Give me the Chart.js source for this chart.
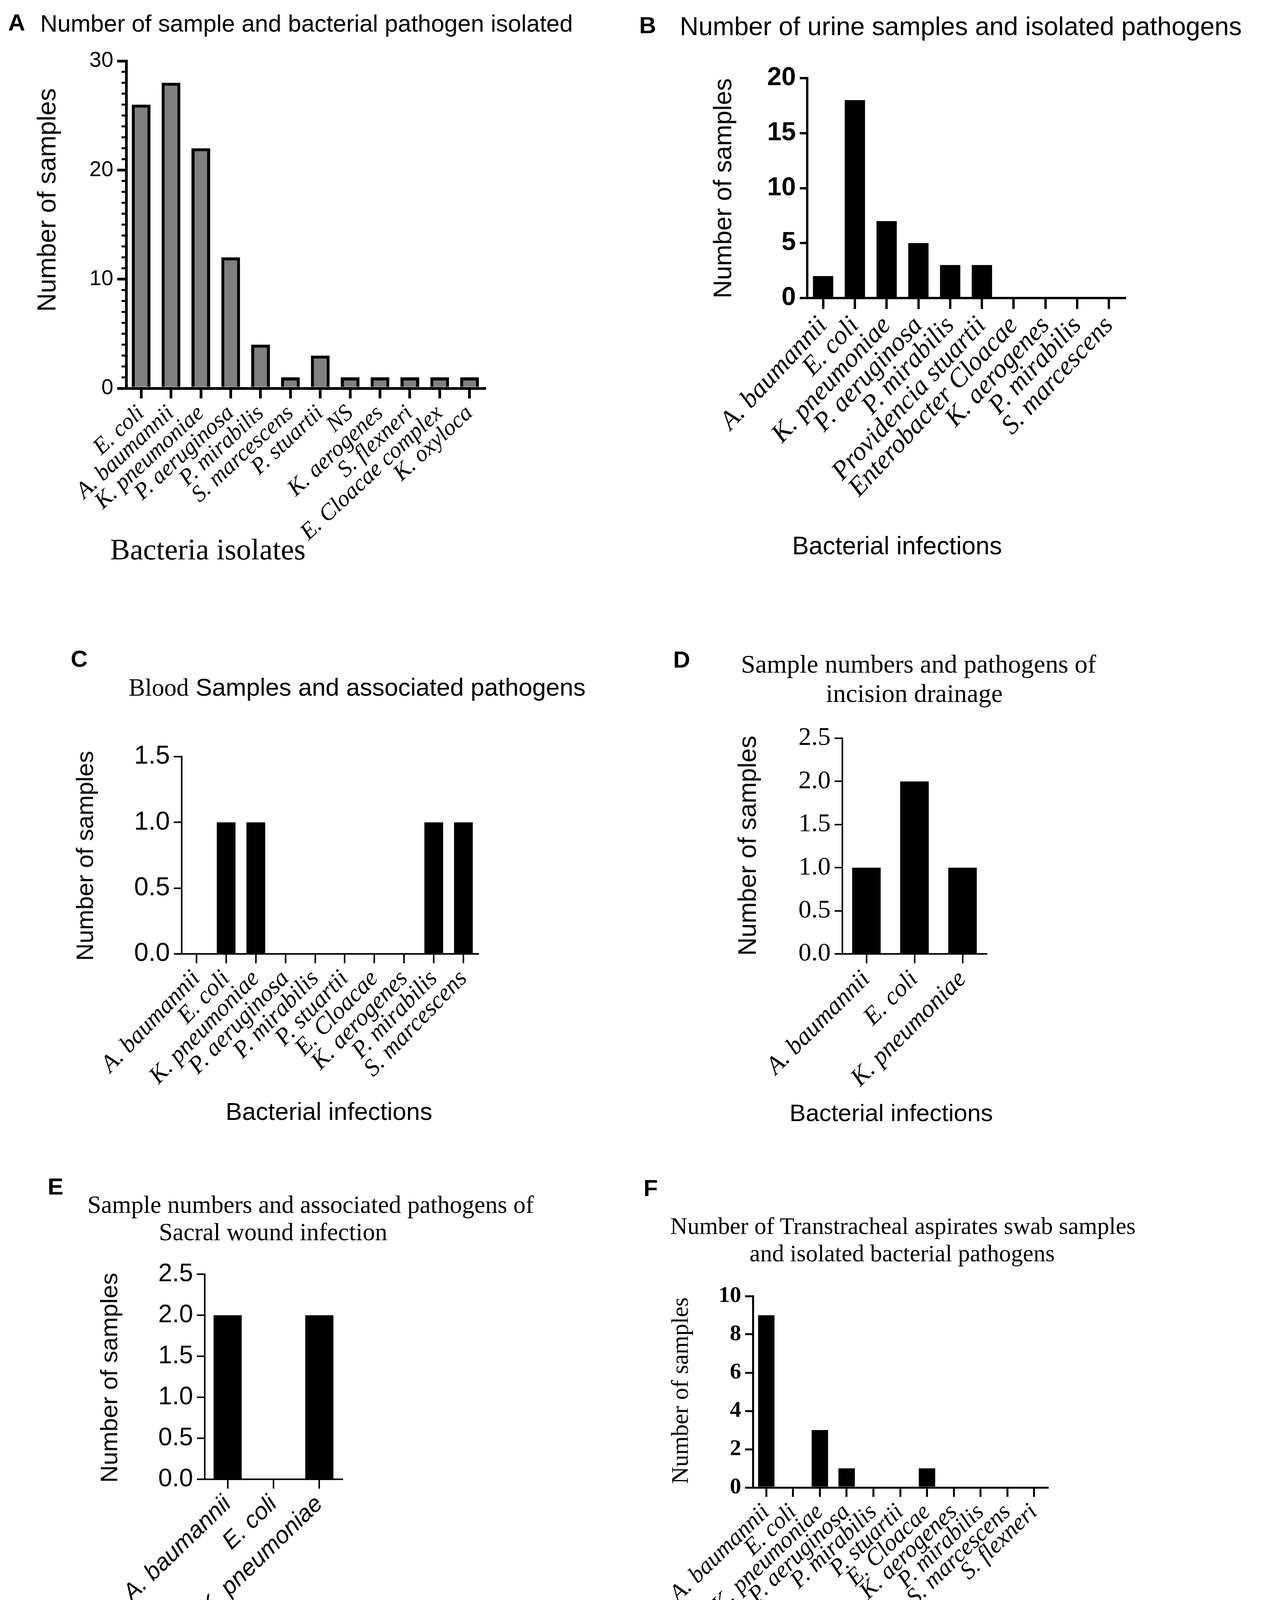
<!DOCTYPE html>
<html><head><meta charset="utf-8">
<script src="https://cdn.jsdelivr.net/npm/chart.js@4.4.1/dist/chart.umd.min.js"></script>
<style>
html,body{margin:0;padding:0;background:#fff;}
body{width:3230px;height:5586px;position:relative;overflow:hidden;}
#wrap{position:absolute;left:0;top:0;width:3230px;height:5586px;}
canvas{position:absolute;}
.t{position:absolute;white-space:nowrap;line-height:1;color:#000;}
.c{transform:translate(-50%,-50%);}
.l{transform:translate(0,-50%);}
.v{transform:translate(-50%,-50%) rotate(-90deg);}
.sans{font-family:"Liberation Sans",Arial,sans-serif;}
.serif{font-family:"Liberation Serif","Times New Roman",serif;}
.lab{font-family:"Liberation Sans",Arial,sans-serif;font-weight:bold;font-size:60px;}
</style></head><body><div id="wrap">
<script>
// ---------- DATA ----------
const catsA = ['E. coli','A. baumannii','K. pneumoniae','P. aeruginosa','P. mirabilis','S. marcescens','P. stuartii','NS','K. aerogenes','S. flexneri','E. Cloacae complex','K. oxyloca'];
const valsA = [26,28,22,12,4,1,3,1,1,1,1,1];
const yTicksA = [0,10,20,30];

const catsB = ['A. baumannii','E. coli','K. pneumoniae','P. aeruginosa','P. mirabilis','Providencia stuartii','Enterobacter Cloacae','K. aerogenes','P. mirabilis','S. marcescens'];
const valsB = [2,18,7,5,3,3,0,0,0,0];
const yTicksB = [0,5,10,15,20];

const catsC = ['A. baumannii','E. coli','K. pneumoniae','P. aeruginosa','P. mirabilis','P. stuartii','E. Cloacae','K. aerogenes','P. mirabilis','S. marcescens'];
const valsC = [0,1,1,0,0,0,0,0,1,1];
const yTicksC = [0,0.5,1,1.5];

const catsD = ['A. baumannii','E. coli','K. pneumoniae'];
const valsD = [1,2,1];
const yTicksD = [0,0.5,1,1.5,2,2.5];

const catsE = ['A. baumannii','E. coli','K. pneumoniae'];
const valsE = [2,0,2];
const yTicksE = [0,0.5,1,1.5,2,2.5];

const catsF = ['A. baumannii','E. coli','K. pneumoniae','P. aeruginosa','P. mirabilis','P. stuartii','E. Cloacae','K. aerogenes','P. mirabilis','S. marcescens','S. flexneri'];
const valsF = [9,0,3,1,0,0,1,0,0,0,0];
const yTicksF = [0,2,4,6,8,10];

const catsG = ['A. baumannii','E. coli','K. pneumoniae','P. aeruginosa','P. mirabilis','P. stuartii','E. Cloacae','K. aerogenes'];
const valsG = [6,2,2,2,0,0,0,1];
const yTicksG = [0,2,4,6,8];

const catsH = ['A. baumannii','E. coli','K. pneumoniae','P. aeruginosa'];
const valsH = [2,0,1,1];
const yTicksH = [0,0.5,1,1.5,2,2.5];

// ---------- RENDERING ----------
const SANS='"Liberation Sans", Arial, sans-serif';
const SERIF='"Liberation Serif", "Times New Roman", serif';
const WRAP=document.getElementById('wrap');

const minorTicksA = {id:'minorTicksA', afterDraw(chart){
  const y=chart.scales.y, ctx=chart.ctx, x0=chart.chartArea.left;
  ctx.save(); ctx.strokeStyle='#000'; ctx.lineWidth=5;
  for(let v=y.min; v<=y.max; v+=1){
    if(yTicksA.includes(v)) continue;
    const py=y.getPixelForValue(v);
    ctx.beginPath(); ctx.moveTo(x0-12,py); ctx.lineTo(x0,py); ctx.stroke();
  }
  ctx.restore();
}};

function panel(p){
  const Ly=p.Ly||270, padTop=p.padTop||60, padRight=p.padRight||60, Hx=p.Hx||480;
  const W = Ly + (p.xEnd - p.axisX) + padRight;
  const H = padTop + (p.zeroY - p.topY) + Hx;
  const cv=document.createElement('canvas');
  cv.width=W; cv.height=H;
  cv.style.left=(p.axisX-Ly)+'px'; cv.style.top=(p.topY-padTop)+'px';
  cv.style.width=W+'px'; cv.style.height=H+'px';
  WRAP.appendChild(cv);
  const n=p.cats.length, catW=(p.xEnd-p.axisX)/n;
  new Chart(cv,{
    type:'bar',
    data:{labels:p.cats,datasets:[{data:p.vals,backgroundColor:p.fill||'#000',borderColor:'#000',
      borderWidth:p.barBorder||0,categoryPercentage:1,barPercentage:p.barW/catW}]},
    options:{
      responsive:false, animation:false,
      layout:{padding:{left:0,top:padTop,right:padRight,bottom:0}},
      plugins:{legend:{display:false},tooltip:{enabled:false},title:{display:false}},
      scales:{
        x:{type:'category',offset:true,
          grid:{display:true,drawOnChartArea:false,drawTicks:true,offset:false,tickLength:p.xTickLen||24,
                tickWidth:p.lw,tickColor:'#000',color:'#000',lineWidth:p.lw},
          border:{display:true,color:'#000',width:p.lw},
          ticks:{autoSkip:false,maxRotation:p.rot,minRotation:p.rot,padding:p.xPad||4,color:'#000',font:p.xFont},
          afterFit:s=>{s.height=Hx;s.paddingLeft=0;s.paddingRight=0;}
        },
        y:{type:'linear',min:p.yTicks[0],max:p.yTicks[p.yTicks.length-1],
          afterBuildTicks:s=>{s.ticks=p.yTicks.map(v=>({value:v}));},
          grid:{display:true,drawOnChartArea:false,drawTicks:true,tickLength:p.yTickLen||20,
                tickWidth:p.lw,tickColor:'#000',color:'#000',lineWidth:p.lw},
          border:{display:true,color:'#000',width:p.lw},
          ticks:{padding:10,color:'#000',font:p.yFont,callback:v=>p.fmt?Number(v).toFixed(1):String(v)},
          afterFit:s=>{s.width=Ly;s.paddingTop=0;s.paddingBottom=0;}
        }
      }
    },
    plugins:p.plugins||[]
  });
}

panel({cats:catsA,vals:valsA,yTicks:yTicksA,axisX:323,topY:156,zeroY:994,xEnd:1240,lw:7,barW:48,fill:'#808080',barBorder:8,
  rot:43,xTickLen:26,yTickLen:23,xFont:{family:SERIF,style:'italic',size:59},yFont:{family:SANS,size:55},plugins:[minorTicksA]});
panel({cats:catsB,vals:valsB,yTicks:yTicksB,axisX:2066,topY:200,zeroY:763,xEnd:2879,lw:6,barW:52,
  rot:47,xTickLen:28,yTickLen:19,Hx:640,xFont:{family:SERIF,style:'italic',size:68},yFont:{family:SANS,weight:'bold',size:66}});
panel({cats:catsC,vals:valsC,yTicks:yTicksC,axisX:465,topY:1937,zeroY:2442,xEnd:1224,lw:4,barW:48,fmt:true,
  rot:46,xTickLen:24,yTickLen:20,xFont:{family:SERIF,style:'italic',size:62},yFont:{family:SANS,size:66}});
panel({cats:catsD,vals:valsD,yTicks:yTicksD,axisX:2156,topY:1890,zeroY:2442,xEnd:2525,lw:4,barW:73,fmt:true,
  rot:45,xTickLen:24,yTickLen:20,xFont:{family:SERIF,style:'italic',size:64},yFont:{family:SERIF,size:66}});
panel({cats:catsE,vals:valsE,yTicks:yTicksE,axisX:524,topY:3262,zeroY:3787,xEnd:876,lw:4,barW:72,fmt:true,
  rot:44,xTickLen:24,yTickLen:20,xFont:{family:SANS,style:'italic',size:61},yFont:{family:SANS,size:64}});
panel({cats:catsF,vals:valsF,yTicks:yTicksF,axisX:1927,topY:3318,zeroY:3808,xEnd:2681,lw:5,barW:42,
  rot:44,xTickLen:24,yTickLen:20,xFont:{family:SERIF,style:'italic',size:61},yFont:{family:SERIF,weight:'bold',size:58}});
panel({cats:catsG,vals:valsG,yTicks:yTicksG,axisX:398,topY:4602,zeroY:5133,xEnd:1198,lw:4,barW:62,
  rot:45,xTickLen:24,yTickLen:20,xFont:{family:SANS,style:'italic',size:61},yFont:{family:SERIF,size:66}});
panel({cats:catsH,vals:valsH,yTicks:yTicksH,axisX:1964,topY:4561,zeroY:5121,xEnd:2523,lw:4,barW:85,fmt:true,
  rot:44,xTickLen:24,yTickLen:20,xFont:{family:SANS,style:'italic',size:63},yFont:{family:SANS,size:65}});
</script>

<!-- Panel A -->
<div class="t lab l" style="left:21px;top:58px;">A</div>
<div class="t sans l" style="left:103px;top:60px;font-size:61px;">Number of sample and bacterial pathogen isolated</div>
<div class="t sans v" style="left:119px;top:512px;font-size:66px;">Number of samples</div>
<div class="t serif c" style="left:532px;top:1406px;font-size:76px;">Bacteria isolates</div>

<!-- Panel B -->
<div class="t lab l" style="left:1636px;top:65px;">B</div>
<div class="t sans l" style="left:1740px;top:67px;font-size:66px;">Number of urine samples and isolated pathogens</div>
<div class="t sans v" style="left:1849px;top:482px;font-size:65px;">Number of samples</div>
<div class="t sans c" style="left:2296px;top:1397px;font-size:64px;">Bacterial infections</div>

<!-- Panel C -->
<div class="t lab l" style="left:181px;top:1687px;">C</div>
<div class="t sans c" style="left:914px;top:1760px;font-size:63px;"><span class="serif">Blood</span> Samples and associated pathogens</div>
<div class="t sans v" style="left:217px;top:2191px;font-size:62px;">Number of samples</div>
<div class="t sans c" style="left:842px;top:2845px;font-size:63px;">Bacterial infections</div>

<!-- Panel D -->
<div class="t lab l" style="left:1723px;top:1689px;">D</div>
<div class="t serif c" style="left:2351px;top:1700px;font-size:66px;">Sample numbers and pathogens of</div>
<div class="t serif c" style="left:2340px;top:1775px;font-size:66px;">incision drainage</div>
<div class="t sans v" style="left:1912px;top:2165px;font-size:65px;">Number of samples</div>
<div class="t sans c" style="left:2281px;top:2849px;font-size:62px;">Bacterial infections</div>

<!-- Panel E -->
<div class="t lab l" style="left:122px;top:3038px;">E</div>
<div class="t serif c" style="left:795px;top:3084px;font-size:63px;">Sample numbers and associated pathogens of</div>
<div class="t serif c" style="left:699px;top:3154px;font-size:63px;">Sacral wound infection</div>
<div class="t sans v" style="left:279px;top:3527px;font-size:62px;">Number of samples</div>
<div class="t sans c" style="left:697px;top:4199px;font-size:62px;">Bacterial infections</div>

<!-- Panel F -->
<div class="t lab l" style="left:1647px;top:3042px;">F</div>
<div class="t serif c" style="left:2311px;top:3138px;font-size:61px;">Number of Transtracheal aspirates swab samples</div>
<div class="t serif c" style="left:2309px;top:3208px;font-size:61px;">and isolated bacterial pathogens</div>
<div class="t serif v" style="left:1740px;top:3560px;font-size:61px;">Number of samples</div>
<div class="t sans c" style="left:2312px;top:4199px;font-size:61px;">Bacterial infections</div>

<!-- Panel G -->
<div class="t lab l" style="left:186px;top:4393px;">G</div>
<div class="t serif c" style="left:800px;top:4478px;font-size:66px;">Wound Swabs and infecting pathogens</div>
<div class="t sans v" style="left:238px;top:4854px;font-size:65px;">Number of samples</div>
<div class="t sans c" style="left:799px;top:5545px;font-size:66px;">Bacterial infections</div>

<!-- Panel H -->
<div class="t lab l" style="left:1612px;top:4388px;">H</div>
<div class="t serif l" style="left:1714px;top:4447px;font-size:65px;">Sputum samples and isolated pathogens</div>
<div class="t serif v" style="left:1756px;top:4844px;font-size:66px;">Number of samples</div>
<div class="t sans c" style="left:2242px;top:5546px;font-size:66px;">Bacterial infections</div>
</div></body></html>
